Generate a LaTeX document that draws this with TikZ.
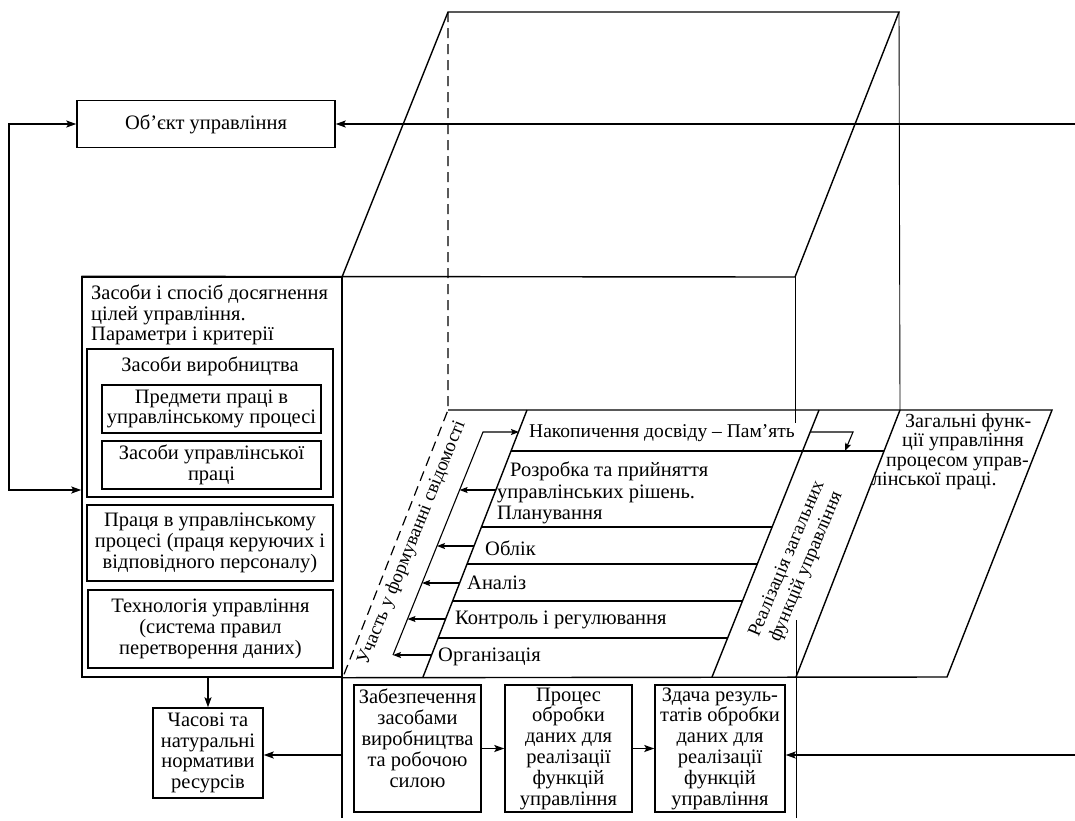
\documentclass[tikz,border=0pt]{standalone}
\usepackage{fontspec}
\setmainfont{Liberation Serif}
\usetikzlibrary{arrows.meta}
\newcommand\myfz{\fontsize{20.5}{20.8}\selectfont}
\begin{document}
\begin{tikzpicture}[x=1pt,y=-1pt,
  ln/.style={line width=1.4pt},
  thn/.style={line width=0.9pt},
  dsh/.style={line width=1.2pt,dash pattern=on 10pt off 6pt},
  arr/.style={ln,-{Stealth[length=10pt,width=7pt,inset=2pt]}},
  darr/.style={ln,{Stealth[length=10pt,width=7pt,inset=2pt]}-{Stealth[length=10pt,width=7pt,inset=2pt]}},
  sarr/.style={line width=1.1pt,-{Stealth[length=8pt,width=6pt,inset=1.5pt]}},
  bx/.style={draw,line width=1.4pt,inner sep=1pt,align=center,font=\myfz},
  frm/.style={draw,line width=1.4pt,inner sep=0pt},
  tx/.style={inner sep=0pt,font=\myfz},
]
\useasboundingbox (0,0) rectangle (1075,820);

% ---------- left column ----------
\node[bx,minimum width=258pt,minimum height=47pt] (obj) at (206,124) {Об’єкт управління};
\node[frm,minimum width=260pt,minimum height=400pt] (zas) at (212,477) {};
\node[tx,anchor=west,align=left] (zt) at (91,315) {Засоби і спосіб досягнення\\цілей управління.\\Параметри і критерії};
\node[frm,minimum width=246pt,minimum height=148pt] (vyr) at (210,423) {};
\node[tx] (vyrt) at (210,366) {Засоби виробництва};
\node[bx,minimum width=219pt,minimum height=48pt] (pred) at (211.5,409) {Предмети праці в\\управлінському процесі};
\node[bx,minimum width=219pt,minimum height=48pt] (zupr) at (211.5,465) {Засоби управлінської\\праці};
\node[bx,minimum width=246pt,minimum height=76pt] (prac) at (210,543) {Праця в управлінському\\процесі (праця керуючих і\\відповідного персоналу)};
\node[bx,minimum width=245pt,minimum height=78pt] (tekh) at (210.5,629) {Технологія управління\\(система правил\\перетворення даних)};
\node[bx,minimum width=110pt,minimum height=90pt] (chas) at (208,753) {Часові та\\натуральні\\нормативи\\ресурсів};

% ---------- bottom boxes ----------
\node[bx,minimum width=127pt,minimum height=127pt] (b1) at (417.5,748.5) {Забезпечення\\засобами\\виробництва\\та робочою\\силою\\ \mbox{}};
\node[bx,minimum width=127pt,minimum height=127pt] (b2) at (568.5,748.5) {Процес\\обробки\\даних для\\реалізації\\функцій\\управління};
\node[bx,minimum width=130pt,minimum height=127pt] (b3) at (720,748.5) {Здача резуль-\\татів обробки\\даних для\\реалізації\\функцій\\управління};

% ---------- cube ----------
\coordinate (A) at (448,12);
\coordinate (B) at (899,12);
\coordinate (C) at (342,277);
\coordinate (D) at (795,277);
\coordinate (P1) at (448,410);
\coordinate (P2) at (1052,410);
\coordinate (Q2) at (947,677);
\coordinate (E1) at (527,410);
\coordinate (E2) at (423,677);
\coordinate (S1) at (819,410);
\coordinate (S2) at (712,677);
\coordinate (T1) at (900,410);
\coordinate (T2) at (796,677);
\coordinate (bot) at (342,818);
\coordinate (bot2) at (796,818);
\coordinate (tip2) at (796,620);
\coordinate (Dend) at (795,423);

\draw[ln] (zas.north west) -- (D) -- (B) -- (A) -- (C);
\draw[dsh] (A) -- (P1) -- (zas.south east);
\draw[thn] (B) -- (T1);
\draw[thn] (D) -- (Dend);
\draw[ln] (C) -- (bot);
\draw[ln] (P1) -- (P2) -- (Q2) -- (zas.south east);
\draw[ln] (E1) -- (E2);
\draw[ln] (S1) -- (S2);
\draw[ln] (T1) -- (T2);
\draw[thn] (bot2) -- (tip2);

% row separators
\draw[ln] (511,451) -- (884,451);
\draw[ln] (481.4,527) -- (772.2,527);
\draw[ln] (467,564) -- (757.4,564);
\draw[ln] (452.6,601) -- (742.6,601);
\draw[ln] (438.2,638) -- (727.8,638);

% collector line and arrows
\coordinate (K1) at (483,432);
\coordinate (K2) at (393,655);
\coordinate (Ktop) at (519,432);
\draw[sarr] (K2) -- (K1) -- (Ktop);
\draw[sarr] (495.8,490) -- (459.6,490);
\draw[sarr] (474,546) -- (437,546);
\draw[sarr] (459.6,583) -- (422.1,583);
\draw[sarr] (445.6,619) -- (407.5,619);
\draw[sarr] (431.5,655) -- (K2);

% strip arrow
\coordinate (M1) at (811,432);
\coordinate (M2) at (853,432);
\coordinate (M3) at (845,451);
\draw[sarr] (M1) -- (M2) -- (M3);

% row texts
\node[tx,anchor=west,font=\fontsize{19.5}{20}\selectfont] (nak) at (529,433) {Накопичення досвіду – Пам’ять};
\node[tx,anchor=west,align=left,font=\fontsize{20.5}{21.5}\selectfont] (roz) at (497,493) {\hspace*{13pt}Розробка та прийняття\\управлінських рішень.\\Планування};
\node[tx,anchor=west] (obl) at (485,548) {Облік};
\node[tx,anchor=west] (an) at (467,583) {Аналіз};
\node[tx,anchor=west] (kon) at (455,620) {Контроль і регулювання};
\node[tx,anchor=west] (org) at (438,657) {Організація};

% rotated texts
\node[tx,rotate=68,font=\fontsize{19}{20}\selectfont] (uch) at (412,543) {Участь у формуванні свідомості};
\node[tx,rotate=67,align=center,font=\fontsize{19}{21}\selectfont] (real) at (797,563) {Реалізація загальних\\функцій управління};

% general functions text
\node[tx,anchor=west,align=left,font=\fontsize{20}{19.5}\selectfont] (zag) at (872,451.5) {\hspace*{33pt}Загальні функ-\\\hspace*{30pt}ції управління\\\hspace*{14pt}процесом управ-\\лінської праці.};

% ---------- connectors ----------
\coordinate (R1) at (1075,124);
\draw[arr] (R1) -- (obj.east);
\coordinate (F) at (9,490);
\draw[darr] (obj.west) -| (F) -- (F -| zas.west);
\draw[arr] (zas.south -| chas.north) -- (chas.north);
\coordinate (L1) at (342,755);
\draw[arr] (L1) -- (L1 -| chas.east);
\draw[arr] (b1.east) -- (b2.west);
\draw[arr] (b2.east) -- (b3.west);
\coordinate (R2) at (1075,755);
\draw[arr] (R2) -- (R2 -| b3.east);
\end{tikzpicture}
\end{document}
